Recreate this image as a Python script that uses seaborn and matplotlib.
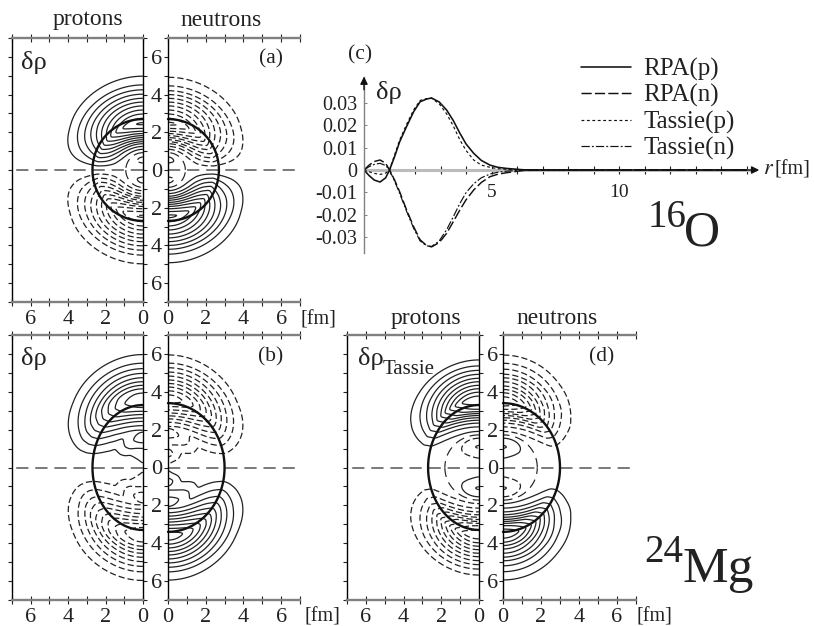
import numpy as np
import pandas as pd
import seaborn as sns
import matplotlib
matplotlib.use("Agg")
import matplotlib.pyplot as plt

sns.set_theme(style="ticks")
plt.rcParams['font.family'] = ['Liberation Serif', 'DejaVu Sans']
plt.rcParams['mathtext.fontset'] = 'stix'

W, H = 814, 626
DARK = "#222222"
GRAY = "#808080"

# ---- contour profiles along the symmetry axis: position (fm), contour level index
a_p_z = [0, .3, .55, .75, .92, 1.1, 1.25, 1.4, 1.5, 1.6, 1.72, 1.82, 1.93, 2.05, 2.2, 2.45, 2.74, 2.97, 3.18, 3.4, 3.6, 3.8, 4.02, 4.25, 4.5, 4.96, 5.6, 6.5, 8, 12]
a_p_l = [0, -.9, -1.25, -.9, 0, 1, 2, 3, 4, 5, 6, 7, 8, 9, 10, 11.3, 10, 9, 8, 7, 6, 5, 4, 3, 2, 1, .35, .1, .03, .01]
a_n_z = [0, .3, .55, .75, .92, 1.1, 1.25, 1.4, 1.5, 1.6, 1.72, 1.82, 1.93, 2.05, 2.2, 2.45, 2.74, 2.97, 3.18, 3.4, 3.6, 3.8, 4.0, 4.2, 4.45, 4.9, 5.6, 6.5, 8, 12]
a_n_l = [0, -.9, -1.25, -.9, 0, 1, 2, 3, 4, 5, 6, 7, 8, 9, 10, 11.4, 10, 9, 8, 7, 6, 5, 4, 3, 2, 1, .35, .1, .03, .01]
b_p_z = [0, .23, .6, 1.03, 1.29, 1.55, 1.86, 1.95, 2.0, 2.21, 2.44, 2.62, 2.8, 2.97, 3.15, 3.55, 3.95, 4.16, 4.34, 4.53, 4.74, 4.97, 5.22, 5.5, 5.95, 6.6, 8, 12]
b_p_l = [0, 1, 1.5, 2, 3, 3.4, 3, 2.9, 3, 4, 5, 6, 7, 8, 9, 9.8, 9, 8, 7, 6, 5, 4, 3, 2, 1, .35, .05, .01]
b_n_z = [0, .15, .56, .75, .97, 1.1, 1.2, 1.55, 1.8, 2.05, 2.12, 2.2, 2.39, 2.57, 2.73, 2.88, 3.04, 3.22, 3.4, 3.6, 3.85, 4.05, 4.25, 4.44, 4.62, 4.83, 5.04, 5.27, 5.5, 5.93, 6.6, 8, 12]
b_n_l = [0, 1, 2, 2.3, 2, 1.8, 2, 3, 3.4, 3, 2.9, 3, 4, 5, 6, 7, 8, 9, 10, 10.6, 10, 9, 8, 7, 6, 5, 4, 3, 2, 1, .35, .05, .01]
d_p_z = [0, .5, .85, 1.1, 1.3, 1.56, 1.72, 1.9, 2.15, 2.35, 2.5, 2.63, 2.75, 2.85, 2.95, 3.06, 3.3, 3.55, 3.77, 3.98, 4.16, 4.34, 4.53, 4.71, 4.92, 5.13, 5.36, 5.66, 6.3, 8, 12]
d_p_l = [0, -1, -1.8, -2.1, -1.8, -1, 0, 1, 2, 3, 4, 5, 6, 7, 8, 9, 10, 11.2, 10, 9, 8, 7, 6, 5, 4, 3, 2, 1, .3, .03, .01]
d_n_z = [0, .5, .85, 1.1, 1.3, 1.56, 1.72, 1.9, 2.15, 2.35, 2.5, 2.63, 2.75, 2.85, 2.95, 3.06, 3.25, 3.5, 3.73, 3.95, 4.12, 4.3, 4.53, 4.74, 4.92, 5.19, 5.63, 6.2, 8, 12]
d_n_l = [0, -1, -1.8, -2.1, -1.8, -1, 0, 1, 2, 3, 4, 5, 6, 7, 8, 9, 10, 11.1, 10, 9, 8, 7, 6, 5, 4, 3, 1.6, .5, .03, .01]

# ---- panel (c)
r_pts = [0, .2, .4, .63, .85, 1.0, 1.2, 1.4, 1.67, 1.95, 2.2, 2.45, 2.65, 2.95, 3.24, 3.5, 3.76, 4.0, 4.3, 4.6, 4.94, 5.25, 5.6, 6.25, 7, 15]
rpa_p = [0, -.0025, -.0045, -.0054, -.0035, 0, .006, .0127, .0195, .0262, .0306, .0318, .0323, .0305, .0269, .0222, .0165, .0117, .0075, .0043, .0022, .0012, .0007, .0001, 0, 0]
rpa_n = [0, .0022, .0038, .0045, .003, 0, -.0045, -.0098, -.0179, -.0255, -.0313, -.0338, -.0345, -.0325, -.0284, -.0232, -.0179, -.0134, -.009, -.0056, -.003, -.0019, -.0012, -.0002, 0, 0]
tassie_p = [0, -.0008, -.0015, -.002, -.0014, 0, .0068, .0135, .0205, .027, .0312, .032, .0322, .0297, .0252, .0198, .0135, .0088, .0045, .0022, .0012, .0006, .0003, 0, 0, 0]
tassie_n = [0, .0015, .0025, .003, .002, 0, -.005, -.0105, -.0185, -.0262, -.0318, -.034, -.0343, -.0318, -.0268, -.021, -.015, -.0102, -.0062, -.0035, -.0018, -.001, -.0005, 0, 0, 0]
legend_names = ["RPA(p)", "RPA(n)", "Tassie(p)", "Tassie(n)"]
c_yticks = [-.03, -.02, -.01, 0, .01, .02, .03]
c_ylabels = ["-0.03", "-0.02", "-0.01", "0", "0.01", "0.02", "0.03"]

xg = np.linspace(0.005, 7, 420)
zg = np.linspace(0.005, 7, 420)
X, Z = np.meshgrid(xg, zg)
fine = np.linspace(0, 12, 2401)


def profile(zp, lp, sigma=0.05):
    y = np.interp(fine, zp, lp)
    n = int(4 * sigma / (fine[1] - fine[0]))
    t = np.arange(-n, n + 1) * (fine[1] - fine[0])
    w = np.exp(-.5 * (t / sigma) ** 2)
    w /= w.sum()
    return np.convolve(np.pad(y, n, mode='edge'), w, mode='valid')


def field(zp, lp, k_in, k_out, p):
    prof = profile(zp, lp)
    r = np.hypot(X, Z)
    k = np.interp(r, [1.5, 3.0], [k_in, k_out])
    s = np.hypot(X * k, Z)
    return np.interp(s, fine, prof) * (Z / s) ** p


def px_axes(l, r, t, b):
    return fig.add_axes([l / W, 1 - b / H, (r - l) / W, (b - t) / H])


POS = np.arange(1, 14)
NEG = -POS[::-1]


def draw_half(ax, F, sign, zero):
    for zsign in (1, -1):
        G = F * sign * zsign
        ax.contour(X, Z * zsign, G, levels=POS, colors=DARK, linewidths=.9, linestyles='solid')
        ax.contour(X, Z * zsign, G, levels=NEG, colors=DARK, linewidths=.9, linestyles=[(0, (5, 2.4))])
        if zero:
            ax.contour(X, Z * zsign, G, levels=[0], colors=DARK, linewidths=.85, linestyles=[(0, (8, 5))])


def pair(lx, rx, top, bottom, zp, lp, zn, ln, kp, kn, ell_p, ell_n, zero, power):
    axl = px_axes(lx[0], lx[1], top, bottom)
    axr = px_axes(rx[0], rx[1], top, bottom)
    for ax, side in ((axl, 'l'), (axr, 'r')):
        ax.set_facecolor('none')
        ax.set_ylim(-7, 7)
        ax.set_xlim(*((7, 0) if side == 'l' else (0, 7)))
        ax.set_xticks(range(0, 8))
        ax.set_xticklabels(['' if i % 2 else ('' if i == 7 else str(i)) for i in range(8)], fontsize=16)
        ax.set_yticks(range(-7, 8))
        ax.tick_params(axis='x', which='major', direction='inout', length=6, width=.8, color=DARK,
                       top=True, bottom=True, pad=3, labelcolor=DARK)
        for s in ('top', 'bottom'):
            ax.spines[s].set_color(GRAY)
            ax.spines[s].set_linewidth(1.7)
        for s in ('left', 'right'):
            ax.spines[s].set_color('black')
            ax.spines[s].set_linewidth(1.0)
        ax.plot([0, 7], [0, 0], color="#555555", lw=1.1, dashes=(8, 4.5), clip_on=True)
    axr.spines['right'].set_visible(False)
    axl.tick_params(axis='y', left=True, right=True, labelleft=False, labelright=True, direction='out',
                    length=3.2, width=.8, color=DARK, pad=2.5, labelsize=16, labelcolor=DARK)
    axl.set_yticklabels(['' if i % 2 else str(abs(i)) for i in range(-7, 8)], ha='left')
    axr.tick_params(axis='y', left=True, right=False, labelleft=False, direction='out',
                    length=3.2, width=.8, color=DARK)
    draw_half(axl, field(zp, lp, kp[0], kp[1], power[0]), 1, zero)
    draw_half(axr, field(zn, ln, kn[0], kn[1], power[1]), -1, zero)
    t = np.linspace(-np.pi / 2, np.pi / 2, 200)
    axl.plot(ell_p[0] * np.cos(t), ell_p[1] * np.sin(t), color='#111111', lw=1.7, clip_on=False)
    axr.plot(ell_n[0] * np.cos(t), ell_n[1] * np.sin(t), color='#111111', lw=1.7, clip_on=False)
    return axl, axr


fig = plt.figure(figsize=(W / 100, H / 100), dpi=100)

pair((12, 143), (168, 300), 38, 302, a_p_z, a_p_l, a_n_z, a_n_l, (1, 1), (1, 1), (2.7, 2.7), (2.7, 2.7), True, (1, 1))
pair((12, 143), (168, 300), 335, 600, b_p_z, b_p_l, b_n_z, b_n_l, (1.15, 1.15), (1.17, 1.17), (2.7, 3.3), (3.0, 3.4), False, (1.5, 1.5))
pair((347, 479), (503, 636), 335, 600, d_p_z, d_p_l, d_n_z, d_n_l, (.9, 1.15), (.9, 1.17), (2.7, 3.3), (3.0, 3.4), True, (2.2, 2.2))

# ---- panel (c)
axc = px_axes(364, 757, 77, 253)
axc.set_facecolor('none')
axc.set_xlim(0, 393 / 25.5)
axc.set_ylim(-83 / 22.3 * .01, 93 / 22.3 * .01)
axc.plot([0, 15.4], [0, 0], color="#bbbbbb", lw=2.2, zorder=1)
series = [rpa_p, rpa_n, tassie_p, tassie_n]
styles = [dict(linewidth=1.15), dict(linewidth=1.05, dashes=(7, 2.2)),
          dict(linewidth=.85, dashes=(2.4, 2.2)), dict(linewidth=.85, dashes=(7, 1.8, 1.6, 1.8))]
for vals, nm, st in zip(series, legend_names, styles):
    frame = pd.DataFrame({"r": r_pts, "v": vals})
    dashes = st.pop('dashes', None)
    sns.lineplot(data=frame, x="r", y="v", ax=axc, color='#111111', errorbar=None, label=nm, sort=False, **st)
    if dashes:
        axc.get_lines()[-1].set_dashes(dashes)
for s in ('top', 'right', 'bottom'):
    axc.spines[s].set_visible(False)
axc.spines['bottom'].set_position(('data', 0))
axc.spines['left'].set_color(GRAY)
axc.spines['left'].set_linewidth(1.0)
axc.set_xlabel('')
axc.set_ylabel('')
axc.xaxis.set_ticks_position('bottom')
axc.set_xticks(range(1, 16))
axc.set_xticklabels(['5' if i == 5 else '10' if i == 10 else '' for i in range(1, 16)], fontsize=14, color=DARK)
axc.tick_params(axis='x', direction='inout', length=6, width=.8, color=DARK, pad=7)
axc.set_yticks(c_yticks)
axc.set_yticklabels(c_ylabels, fontsize=14.5, color=DARK)
axc.tick_params(axis='y', direction='in', length=2.5, width=.7, color=GRAY, pad=5)
axc.annotate('', xy=(15.5, 0), xytext=(14.5, 0), arrowprops=dict(arrowstyle='-|>', color='#111111', lw=1, shrinkA=0, shrinkB=0, mutation_scale=11), annotation_clip=False)
axc.annotate('', xy=(0, 93 / 22.3 * .01 + .0002), xytext=(0, .036), arrowprops=dict(arrowstyle='-|>', color='#111111', lw=1, shrinkA=0, shrinkB=0, mutation_scale=11), annotation_clip=False)
handles, labels = axc.get_legend_handles_labels()
leg = axc.legend(handles, labels, loc='upper left', bbox_to_anchor=(581 / W, 1 - 58 / H), bbox_transform=fig.transFigure,
                 frameon=False, fontsize=18, handlelength=2.0, handletextpad=.5, labelspacing=.13, borderpad=0, borderaxespad=0)
for tx in leg.get_texts():
    tx.set_color(DARK)


def T(x, y, s, size=15.5, **kw):
    fig.text(x / W, 1 - y / H, s, fontsize=size, color=kw.pop('color', DARK), ha=kw.pop('ha', 'center'), va=kw.pop('va', 'center'), **kw)


T(88, 20, "protons", 17)
T(221, 20, "neutrons", 17)
T(426, 318, "protons", 17)
T(557, 318, "neutrons", 17)
T(271, 59, "(a)", 15.5)
T(271, 357, "(b)", 15.5)
T(602, 357, "(d)", 15.5)
T(360, 55, "(c)", 15.5)
T(34, 62, "δρ", 19)
T(34, 358, "δρ", 19)
T(358, 359, "δρ", 19, ha='left')
T(383, 369, "Tassie", 15, ha='left')
T(376, 92, "δρ", 19, ha='left')
T(301, 320, "[fm]", 14.5, ha='left')
T(637, 617, "[fm]", 14.5, ha='left')
T(304, 617, "[fm]", 14.5, ha='left')
T(763, 170, "$\\mathit{r}$", 16, ha='left')
T(775, 170, "[fm]", 14.5, ha='left')
T(648, 227, "16", 28, ha='left', va='baseline')
T(684, 246, "O", 36, ha='left', va='baseline')
T(644, 562, "24", 28, ha='left', va='baseline')
T(683, 582, "Mg", 37, ha='left', va='baseline')

fig.savefig("out.png", dpi=100)
